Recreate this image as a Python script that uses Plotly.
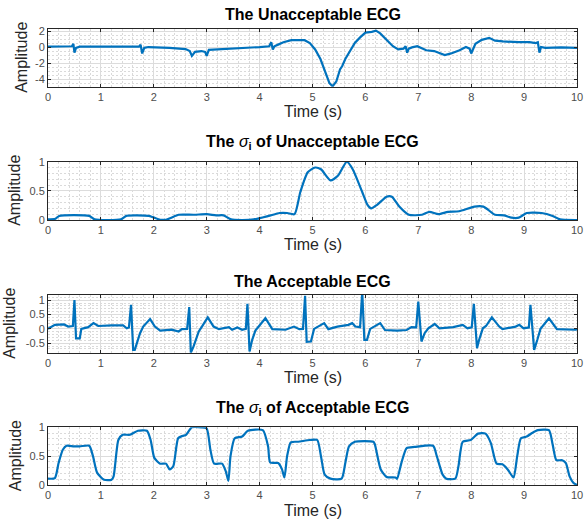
import plotly.graph_objects as go

# ---------------- data ----------------
ecg_bad_t = [0, 0.3, 0.45, 0.48, 0.5, 0.53, 0.6, 1.0, 1.5, 1.72, 1.75, 1.78, 1.82, 1.9,
             2.3, 2.6, 2.68, 2.72, 2.78, 2.9, 2.97, 3.0, 3.04, 3.2, 3.6, 4.0, 4.18, 4.22,
             4.25, 4.28, 4.35, 4.45, 4.6, 4.75, 4.85, 4.95, 5.05, 5.15, 5.25, 5.32, 5.38,
             5.45, 5.52, 5.56, 5.62, 5.72, 5.8, 5.9, 6.0, 6.12, 6.2, 6.28, 6.4, 6.52, 6.62,
             6.72, 6.76, 6.79, 6.82, 6.88, 6.98, 7.15, 7.3, 7.5, 7.62, 7.78, 7.9, 7.97,
             8.0, 8.03, 8.08, 8.2, 8.34, 8.45, 8.6, 8.9, 9.1, 9.22, 9.26, 9.29, 9.32, 9.4,
             9.7, 10]
ecg_bad_amp = [0.05, 0.1, 0.1, 0.4, -0.7, -0.1, 0.05, 0.05, 0.05, 0.05, 0.3, -0.8, -0.1, 0.0,
               -0.1, -0.25, -0.5, -1.1, -0.6, -0.5, -0.6, -1.1, -0.35, -0.3, -0.1, 0.0, 0.1,
               0.6, -0.3, 0.1, 0.3, 0.6, 0.85, 0.9, 0.85, 0.5, -0.3, -1.5, -3.2, -4.5, -4.9,
               -4.3, -2.8, -2.4, -1.5, -0.3, 0.5, 1.2, 1.8, 1.9, 2.05, 1.7, 0.9, 0.1, -0.3,
               -0.2, 0.1, -0.7, -0.2, -0.05, 0.1, -0.4, -0.5, -1.0, -0.8, -0.4, 0.0, -0.2,
               -0.8, -0.3, 0.4, 0.9, 1.15, 0.8, 0.7, 0.6, 0.6, 0.5, 0.6, -0.7, 0.0, -0.1,
               -0.05, -0.1]

sig_bad_t = [0, 0.14, 0.21, 0.78, 0.88, 1.38, 1.48, 1.9, 1.98, 2.12, 2.23, 2.33, 2.47, 2.76,
             3.0, 3.18, 3.32, 3.46, 3.67, 3.89, 4.17, 4.38, 4.52, 4.66, 4.77, 4.91, 5.05,
             5.16, 5.34, 5.48, 5.65, 5.76, 5.94, 6.04, 6.11, 6.22, 6.4, 6.5, 6.64, 6.82,
             7.07, 7.21, 7.38, 7.56, 7.77, 8.06, 8.23, 8.45, 8.62, 8.76, 8.9, 9.05, 9.33,
             9.54, 9.68, 10]
sig_bad_amp = [0.01, 0.02, 0.07, 0.07, 0.01, 0.01, 0.07, 0.07, 0.05, 0.005, 0.005, 0.04,
               0.09, 0.09, 0.1, 0.08, 0.08, 0.01, 0.0, 0.01, 0.07, 0.12, 0.12, 0.1, 0.48,
               0.82, 0.9, 0.87, 0.68, 0.76, 1.0, 0.87, 0.48, 0.26, 0.2, 0.26, 0.4, 0.4,
               0.23, 0.09, 0.09, 0.14, 0.1, 0.14, 0.15, 0.23, 0.23, 0.09, 0.08, 0.04, 0.04,
               0.12, 0.12, 0.07, 0.01, 0.0]

ecg_good_t = [0, 0.13, 0.3, 0.38, 0.47, 0.5, 0.53, 0.6, 0.63, 0.76, 0.86, 0.95, 1.2, 1.42,
              1.49, 1.53, 1.57, 1.61, 1.64, 1.74, 1.8, 1.93, 2.02, 2.12, 2.34, 2.47, 2.53,
              2.63, 2.67, 2.7, 2.75, 2.85, 2.91, 3.02, 3.13, 3.23, 3.42, 3.48, 3.58, 3.67,
              3.74, 3.77, 3.81, 3.86, 3.92, 4.11, 4.24, 4.49, 4.65, 4.75, 4.82, 4.86, 4.89,
              4.97, 5.03, 5.22, 5.3, 5.47, 5.68, 5.75, 5.81, 5.9, 5.94, 5.98, 6.03, 6.09,
              6.28, 6.37, 6.6, 6.78, 6.87, 6.96, 7.0, 7.06, 7.12, 7.19, 7.31, 7.4, 7.66,
              7.84, 7.93, 8.01, 8.05, 8.11, 8.15, 8.22, 8.28, 8.39, 8.53, 8.59, 8.84, 8.91,
              8.99, 9.09, 9.12, 9.19, 9.25, 9.31, 9.47, 9.62, 9.97, 10]
ecg_good_amp = [0.0, 0.14, 0.16, 0.08, 0.1, 1.0, -0.33, -0.33, 0.0, 0.06, 0.2, 0.1, 0.12,
                0.12, 0.02, 0.05, 0.84, -0.73, -0.73, -0.15, 0.08, 0.34, 0.08, -0.06, -0.03,
                -0.09, -0.01, 0.0, 0.76, -0.83, -0.62, -0.09, 0.08, 0.4, 0.08, -0.01, 0.06,
                -0.03, 0.05, -0.03, 0.0, 0.87, -0.79, -0.38, -0.06, 0.37, -0.01, -0.03, 0.08,
                -0.01, 0.0, 1.15, -0.45, -0.44, 0.0, 0.2, -0.01, 0.08, 0.14, 0.2, 0.08, 0.06,
                1.3, -0.38, -0.38, 0.0, 0.2, -0.04, -0.06, -0.04, 0.06, 0.05, 0.95, -0.44,
                -0.15, 0.02, 0.17, 0.02, 0.06, 0.14, 0.02, 0.05, 0.87, -0.67, -0.38, 0.02,
                0.1, 0.4, 0.08, -0.01, 0.08, 0.14, 0.02, 0.05, 0.84, -0.73, -0.38, 0.0, 0.37,
                -0.01, -0.03, -0.02]

sig_good_t = [0, 0.13, 0.2, 0.28, 0.35, 0.49, 0.6, 0.78, 0.85, 0.93, 1.06, 1.2, 1.24, 1.33,
              1.41, 1.55, 1.7, 1.87, 1.94, 2.01, 2.12, 2.23, 2.3, 2.37, 2.46, 2.54, 2.61,
              2.72, 2.9, 3.0, 3.07, 3.14, 3.29, 3.36, 3.41, 3.45, 3.53, 3.67, 3.78, 4.06,
              4.16, 4.2, 4.35, 4.42, 4.47, 4.52, 4.59, 4.73, 4.95, 5.09, 5.16, 5.23, 5.34,
              5.55, 5.62, 5.69, 5.8, 6.15, 6.18, 6.29, 6.4, 6.57, 6.6, 6.68, 6.78, 6.93,
              7.28, 7.35, 7.46, 7.53, 7.7, 7.76, 7.84, 7.99, 8.13, 8.27, 8.37, 8.48, 8.59,
              8.69, 8.8, 8.87, 8.94, 9.05, 9.15, 9.26, 9.47, 9.54, 9.61, 9.72, 9.79, 9.86,
              9.93, 10]
sig_good_amp = [0.11, 0.12, 0.38, 0.61, 0.68, 0.67, 0.67, 0.68, 0.5, 0.21, 0.09, 0.09, 0.15,
                0.78, 0.87, 0.87, 0.94, 0.94, 0.78, 0.47, 0.37, 0.37, 0.27, 0.33, 0.81, 0.85,
                0.87, 1.0, 1.0, 0.98, 0.61, 0.37, 0.37, 0.24, 0.07, 0.5, 0.81, 0.84, 0.94,
                0.95, 0.67, 0.39, 0.38, 0.28, 0.13, 0.5, 0.74, 0.75, 0.78, 0.78, 0.5, 0.18,
                0.11, 0.11, 0.38, 0.67, 0.75, 0.75, 0.7, 0.27, 0.14, 0.13, 0.11, 0.38, 0.64,
                0.66, 0.68, 0.5, 0.18, 0.11, 0.11, 0.33, 0.75, 0.78, 0.89, 0.89, 0.73, 0.37,
                0.36, 0.27, 0.13, 0.5, 0.81, 0.84, 0.9, 0.95, 0.95, 0.7, 0.43, 0.43, 0.38,
                0.15, 0.04, 0.0]

time_ticks = list(range(0, 11))
titles = ["<b>The Unacceptable ECG</b>",
          "<b>The </b><i>σ</i><b><sub>i</sub> of Unacceptable ECG</b>",
          "<b>The Acceptable ECG</b>",
          "<b>The </b><i>σ</i><b><sub>i</sub> of Acceptable ECG</b>"]
y_ranges = [[-4.95, 2.25], [0, 1], [-0.83, 1.18], [0, 1]]
y_ticks = [[-4, -2, 0, 2], [0, 0.5, 1], [-0.5, 0, 0.5, 1], [0, 0.5, 1]]
y_ticktext = [["-4", "-2", "0", "2"], ["0", "0.5", "1"], ["-0.5", "0", "0.5", "1"],
              ["0", "0.5", "1"]]
y_minor = [0.5, 0.1, 0.1, 0.1]

# ---------------- figure ----------------
W, H = 585, 527
FONT = "Liberation Sans, Arial, Helvetica, sans-serif"
LINE = "#0072BD"
frames = [(29, 86.7), (161.7, 220), (295, 352.7), (427.3, 485)]
ylabel_x = [22, 15, 10, 15]
XL, XR = 48 / W, 577 / W

series = [(ecg_bad_t, ecg_bad_amp, "linear"),
          (sig_bad_t, sig_bad_amp, "spline"),
          (ecg_good_t, ecg_good_amp, "linear"),
          (sig_good_t, sig_good_amp, "spline")]

fig = go.Figure()
annotations = []
layout = {}
for i, ((t, a, shape), (top, bot)) in enumerate(zip(series, frames)):
    n = "" if i == 0 else str(i + 1)
    fig.add_trace(go.Scatter(x=t, y=a, mode="lines",
                             line=dict(color=LINE, width=2.2, shape=shape,
                                       smoothing=0.6 if shape == "spline" else None),
                             xaxis="x" + n, yaxis="y" + n, showlegend=False))
    common = dict(showline=True, linecolor="#262626", linewidth=1, mirror="ticks",
                  ticks="inside", ticklen=3, tickcolor="#262626", zeroline=False,
                  showgrid=True, gridcolor="#dcdcdc", gridwidth=1, automargin=False,
                  ticklabeloverflow="allow",
                  tickfont=dict(family=FONT, size=11, color="#4d4d4d"))
    minor_style = dict(showgrid=True, gridcolor="#dadada", griddash="2px,2px", gridwidth=1)
    layout["xaxis" + n] = dict(domain=[XL, XR], range=[0, 10], anchor="y" + n,
                               tickvals=time_ticks, ticktext=[str(v) for v in time_ticks],
                               minor=dict(dtick=0.2, tick0=0, **minor_style), **common)
    layout["yaxis" + n] = dict(domain=[1 - bot / H, 1 - top / H], range=y_ranges[i],
                               anchor="x" + n, tickvals=y_ticks[i], ticktext=y_ticktext[i],
                               minor=dict(dtick=y_minor[i], tick0=0, **minor_style), **common)
    title_y = top - (14 if i in (0, 2) else 19)
    annotations.append(dict(text=titles[i], x=(48 + 577) / 2 / W, y=1 - title_y / H,
                            xref="paper", yref="paper", showarrow=False,
                            xanchor="center", yanchor="middle",
                            font=dict(family=FONT, size=16, color="#000000")))
    annotations.append(dict(text="Time (s)", x=(48 + 577) / 2 / W, y=1 - (bot + 25) / H,
                            xref="paper", yref="paper", showarrow=False,
                            xanchor="center", yanchor="middle",
                            font=dict(family=FONT, size=16, color="#262626")))
    annotations.append(dict(text="Amplitude", x=ylabel_x[i] / W, y=1 - (top + bot) / 2 / H,
                            xref="paper", yref="paper", showarrow=False, textangle=-90,
                            xanchor="center", yanchor="middle",
                            font=dict(family=FONT, size=16, color="#262626")))

fig.update_layout(width=W, height=H, margin=dict(l=0, r=0, t=0, b=0),
                  paper_bgcolor="white", plot_bgcolor="white",
                  annotations=annotations, **layout)
fig.write_html("out.html", config={"displayModeBar": False},
               post_script="document.body.style.margin='0';document.body.style.overflow='hidden';")
